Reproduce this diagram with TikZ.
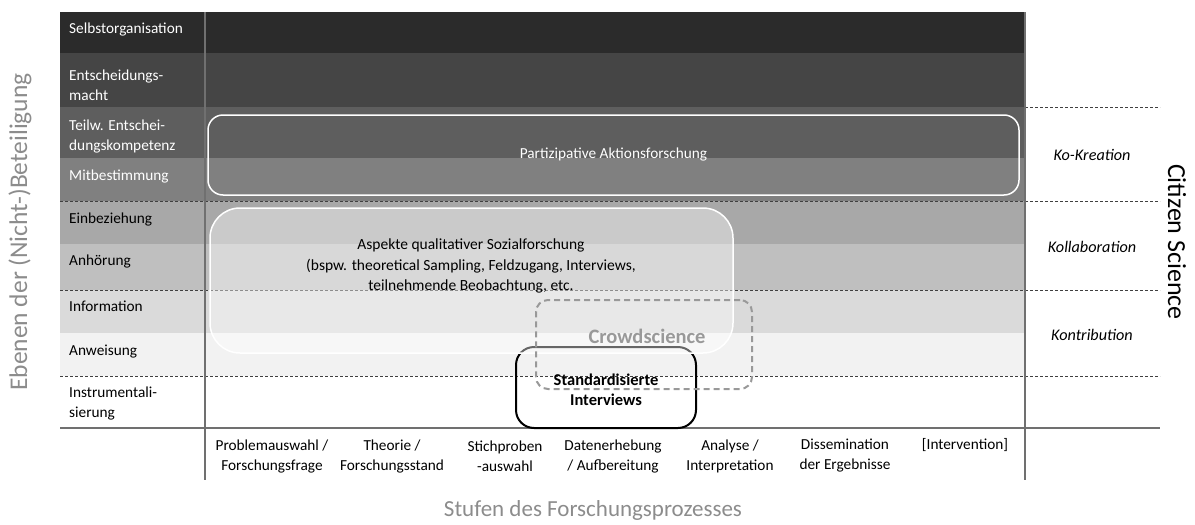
\documentclass[tikz,border=0pt]{standalone}
\usepackage{fontspec}
\setmainfont{Carlito}
\definecolor{lvla}{gray}{0.17}
\definecolor{lvlb}{gray}{0.27}
\definecolor{lvlc}{gray}{0.37}
\definecolor{lvld}{gray}{0.50}
\definecolor{lvle}{gray}{0.66}
\definecolor{lvlf}{gray}{0.75}
\definecolor{lvlg}{gray}{0.855}
\definecolor{lvlh}{gray}{0.95}
\definecolor{rulegray}{gray}{0.44}
\definecolor{softgray}{gray}{0.55}
\definecolor{crowdgray}{gray}{0.60}
\begin{document}
\begin{tikzpicture}[x=1pt, y=-1pt,
    lvl/.style={anchor=north west, inner sep=0pt, align=left,
                font=\fontsize{15.3}{20}\selectfont},
    stage/.style={align=center, inner sep=0pt,
                  font=\fontsize{15.3}{20}\selectfont},
    kind/.style={inner sep=0pt, font=\fontsize{16.2}{18}\selectfont\itshape},
    axis/.style={inner sep=0pt, font=\fontsize{23}{26}\selectfont},
    frame/.style={draw=rulegray, line width=1.2pt},
    sep/.style={draw=black!75, line width=0.7pt, dash pattern=on 3pt off 2pt},
    box/.style={inner sep=0pt, rounded corners=#1},
    box/.default=15pt]

  \useasboundingbox (0,0) rectangle (1195,525);

  % levels
  \fill [lvla] (60,12)  rectangle (1025,53);
  \fill [lvlb] (60,53)  rectangle (1025,107);
  \fill [lvlc] (60,107) rectangle (1025,158);
  \fill [lvld] (60,158) rectangle (1025,201);
  \fill [lvle] (60,201) rectangle (1025,244);
  \fill [lvlf] (60,244) rectangle (1025,290);
  \fill [lvlg] (60,290) rectangle (1025,333);
  \fill [lvlh] (60,333) rectangle (1025,376);

  \node (so) [lvl, white] at (69,23)  {Selbstorganisation};
  \node (em) [lvl, white] at (69,70)  {Entscheidungs-\\macht};
  \node (te) [lvl, white] at (69,120) {Teilw. Entschei-\\dungskompetenz};
  \node (mb) [lvl, white] at (69,170) {Mitbestimmung};
  \node (eb) [lvl]        at (69,213) {Einbeziehung};
  \node (ah) [lvl]        at (69,255) {Anhörung};
  \node (in) [lvl]        at (69,301) {Information};
  \node (aw) [lvl]        at (69,345) {Anweisung};
  \node (im) [lvl]        at (69,387) {Instrumentali-\\sierung};

  % frame
  \draw [sep] (1025,107) -- (1160,107);
  \draw [sep] (60,201)   -- (1160,201);
  \draw [sep] (60,290)   -- (1160,290);
  \draw [sep] (60,376)   -- (1160,376);
  \draw [frame] (205,12)  -- (205,480);
  \draw [frame] (1025,12) -- (1025,480);
  \draw [frame, line width=1.8pt] (60,428) -- (1160,428);

  % approaches
  \node (pa) [box, draw=white, line width=1.5pt, minimum width=811,
              minimum height=80, text=white,
              font=\fontsize{15.3}{18}\selectfont] at (613.5,155)
             {Partizipative Aktionsforschung};
  \node (si) [box=18pt, draw=black, line width=2pt, minimum width=180,
              minimum height=81] at (606,387.5) {};
  \node (qs) [box=30pt, draw=white, fill=white, fill opacity=0.4,
              line width=1.5pt, minimum width=523, minimum height=145]
             at (471.5,280.5) {};
  \node (cs) [box=12pt, draw=crowdgray, line width=2pt,
              dash pattern=on 6pt off 4pt, minimum width=216,
              minimum height=89] at (644,344.5) {};

  \node (qst) [stage, font=\fontsize{15.5}{20.5}\selectfont] at (471,266)
              {Aspekte qualitativer Sozialforschung\\
               (bspw. theoretical Sampling, Feldzugang, Interviews,\\
               teilnehmende Beobachtung, etc.};
  \node (cst) [inner sep=0pt, text=crowdgray,
               font=\fontsize{20.5}{22}\selectfont\bfseries] at (647,336)
              {Crowdscience};
  \node (sit) [stage, font=\fontsize{16.5}{20.5}\selectfont\bfseries]
              at (606,390) {Standardisierte\\Interviews};

  % stages
  \node (s1) [stage] at (272,456) {Problemauswahl /\\Forschungsfrage};
  \node (s2) [stage] at (392,456) {Theorie /\\Forschungsstand};
  \node (s3) [stage] at (505,456) {Stichproben\\-auswahl};
  \node (s4) [stage] at (613,456) {Datenerhebung\\/ Aufbereitung};
  \node (s5) [stage] at (730,456) {Analyse /\\Interpretation};
  \node (s6) [stage] at (845,456) {Dissemination\\der Ergebnisse};
  \node (s7) [stage, anchor=north] at (965,438) {[Intervention]};

  % citizen science
  \node (kk) [kind] at (1092,155) {Ko-Kreation};
  \node (kl) [kind] at (1092,247) {Kollaboration};
  \node (kt) [kind] at (1092,335) {Kontribution};

  % axes
  \node (ya) [axis, text=softgray, rotate=90,
              font=\fontsize{25.5}{28}\selectfont] at (20,232)
             {Ebenen der (Nicht-)Beteiligung};
  \node (xa) [axis, text=softgray] at (593,510)
             {Stufen des Forschungsprozesses};
  \node (cz) [axis, rotate=-90, font=\fontsize{26}{28}\selectfont]
             at (1177,242) {Citizen Science};
\end{tikzpicture}
\end{document}
